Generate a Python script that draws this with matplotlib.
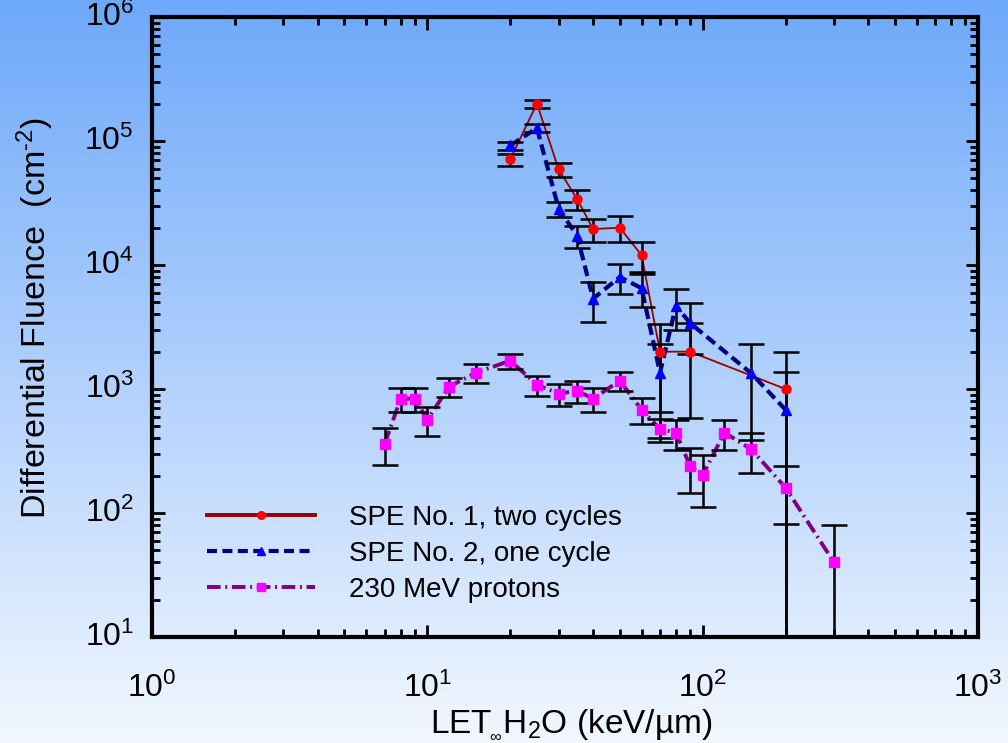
import numpy as np
import matplotlib
matplotlib.use("Agg")
import matplotlib.pyplot as plt
from matplotlib.lines import Line2D

plt.rcParams['font.family'] = ['Liberation Sans', 'DejaVu Sans']
plt.rcParams['mathtext.fontset'] = 'custom'
plt.rcParams['mathtext.rm'] = 'Liberation Sans'
plt.rcParams['mathtext.it'] = 'Liberation Sans:italic'
plt.rcParams['mathtext.bf'] = 'Liberation Sans:bold'
plt.rcParams['mathtext.sf'] = 'Liberation Sans'
plt.rcParams['mathtext.default'] = 'regular'

# SPE No. 1, two cycles
spe1_let = [20, 25, 30, 35, 40, 50, 60, 70, 90, 200]
spe1_flu = [7.1e4, 2.0e5, 5.9e4, 3.4e4, 1.95e4, 2.0e4, 1.2e4, 2.0e3, 2.0e3, 1.0e3]
spe1_err = [7.8e3, 1.5e4, 8.0e3, 6.3e3, 4.2e3, 4.7e3, 3.2e3, 1.35e3, 1.42e3, 1.0e3]

# SPE No. 2, one cycle
spe2_let = [20, 25, 30, 35, 40, 50, 60, 70, 80, 90, 150, 200]
spe2_flu = [9.2e4, 1.27e5, 2.85e4, 1.72e4, 5.35e3, 8.0e3, 6.5e3, 1.35e3, 4.7e3, 3.4e3, 1.34e3, 6.8e2]
spe2_err = [7.0e3, 9.0e3, 4.0e3, 3.4e3, 1.9e3, 2.2e3, 1.9e3, 9.5e2, 1.7e3, 1.5e3, 9.5e2, 6.8e2]

# 230 MeV protons
prot_let = [7, 8, 9, 10, 12, 15, 20, 25, 30, 35, 40, 50, 60, 70, 80, 90, 100, 120, 150, 200, 300]
prot_flu = [362, 835, 835, 565, 1045, 1353, 1690, 1084, 916, 968, 835, 1167, 681, 475, 445,
            240, 202, 445, 327, 160, 40]
prot_err = [120, 180, 180, 150, 190, 225, 240, 200, 190, 190, 180, 200, 160, 100, 120,
            95, 90, 120, 115, 78, 40]

series_labels = ["SPE No. 1, two cycles", "SPE No. 2, one cycle", "230 MeV protons"]

W, H, DPI = 1008, 743, 100
fig = plt.figure(figsize=(W / DPI, H / DPI), dpi=DPI)

# vertical blue-to-white background gradient over the whole figure
bg = fig.add_axes([0, 0, 1, 1], zorder=-1)
top = np.array([0.43, 0.66, 0.98])
bot = np.array([0.95, 0.97, 1.00])
t = np.linspace(0, 1, 256)[:, None]
grad = (top[None, :] * (1 - t) + bot[None, :] * t)[:, None, :]
bg.imshow(grad, aspect='auto', extent=[0, 1, 0, 1], interpolation='bilinear')
bg.axis('off')

ax = fig.add_axes([152 / W, 1 - 637 / H, (978 - 152) / W, (637 - 17) / H])
ax.set_facecolor('none')
ax.set_xscale('log')
ax.set_yscale('log')
ax.set_xlim(1, 1000)
ax.set_ylim(10, 1e6)

ebkw = dict(fmt='none', ecolor='black', elinewidth=1.8, capsize=9.5, capthick=1.8, zorder=3)

# connecting lines
ax.plot(spe1_let, spe1_flu, color='#990000', lw=1.3, zorder=2)
ax.plot(spe2_let, spe2_flu, color='#000080', lw=3.0, ls=(0, (2.6, 1.3)), zorder=2)
ax.plot(prot_let, prot_flu, color='#800080', lw=2.8, ls=(0, (3.5, 1.2, 0.5, 1.2)), zorder=2)

# error bars
ax.errorbar(spe1_let, spe1_flu, yerr=spe1_err, **ebkw)
ax.errorbar(spe2_let, spe2_flu, yerr=spe2_err, **ebkw)
ax.errorbar(prot_let, prot_flu, yerr=prot_err, **ebkw)

# markers
ax.plot(spe1_let, spe1_flu, 'o', color='#ff0000', ms=6.5, mec='#ff0000', zorder=4)
ax.plot(spe2_let, spe2_flu, '^', color='#0000ff', ms=6.5, mec='#0000ff', zorder=4)
ax.plot(prot_let, prot_flu, 's', color='#ff00ff', ms=6.5, mec='#ff00ff', zorder=4)

for s in ax.spines.values():
    s.set_linewidth(3)
ax.tick_params(which='both', direction='in', top=True, right=True, width=2,
               labelsize=23)
ax.tick_params(which='major', length=9)
ax.tick_params(which='minor', length=6)
ax.tick_params(axis='x', which='both', pad=26)
ax.tick_params(axis='y', which='both', pad=13)
for lab in ax.get_yticklabels():
    lab.set_verticalalignment('center')

handles = [
    Line2D([], [], color='#990000', lw=2.8, marker='o', ms=5.5, mfc='#ff0000', mec='#ff0000'),
    Line2D([], [], color='#000080', lw=3.0, ls=(0, (2.4, 1.3)), marker='^', ms=5.5,
           mfc='#0000ff', mec='#0000ff'),
    Line2D([], [], color='#800080', lw=2.8, ls=(0, (3.5, 1.2, 0.5, 1.2)), marker='s', ms=5.5,
           mfc='#ff00ff', mec='#ff00ff'),
]
ax.legend(handles, series_labels, loc='upper left', bbox_to_anchor=(55 / 826, (637 - 505) / 620),
          frameon=False, fontsize=20, handlelength=3.9, handletextpad=1.2,
          labelspacing=0.36, borderaxespad=0, borderpad=0, numpoints=1)

fig.text(35 / W, 1 - 318 / H, 'Differential Fluence  (cm$^{\u2010 2}$)', rotation=90,
         ha='center', va='center', fontsize=24.5)
fig.text(571 / W, 1 - 732 / H, r'LET$_{_{\!\infty}}$H$_2$O (keV/µm)', ha='center',
         va='baseline', fontsize=24)

fig.savefig('out.png', dpi=DPI)
